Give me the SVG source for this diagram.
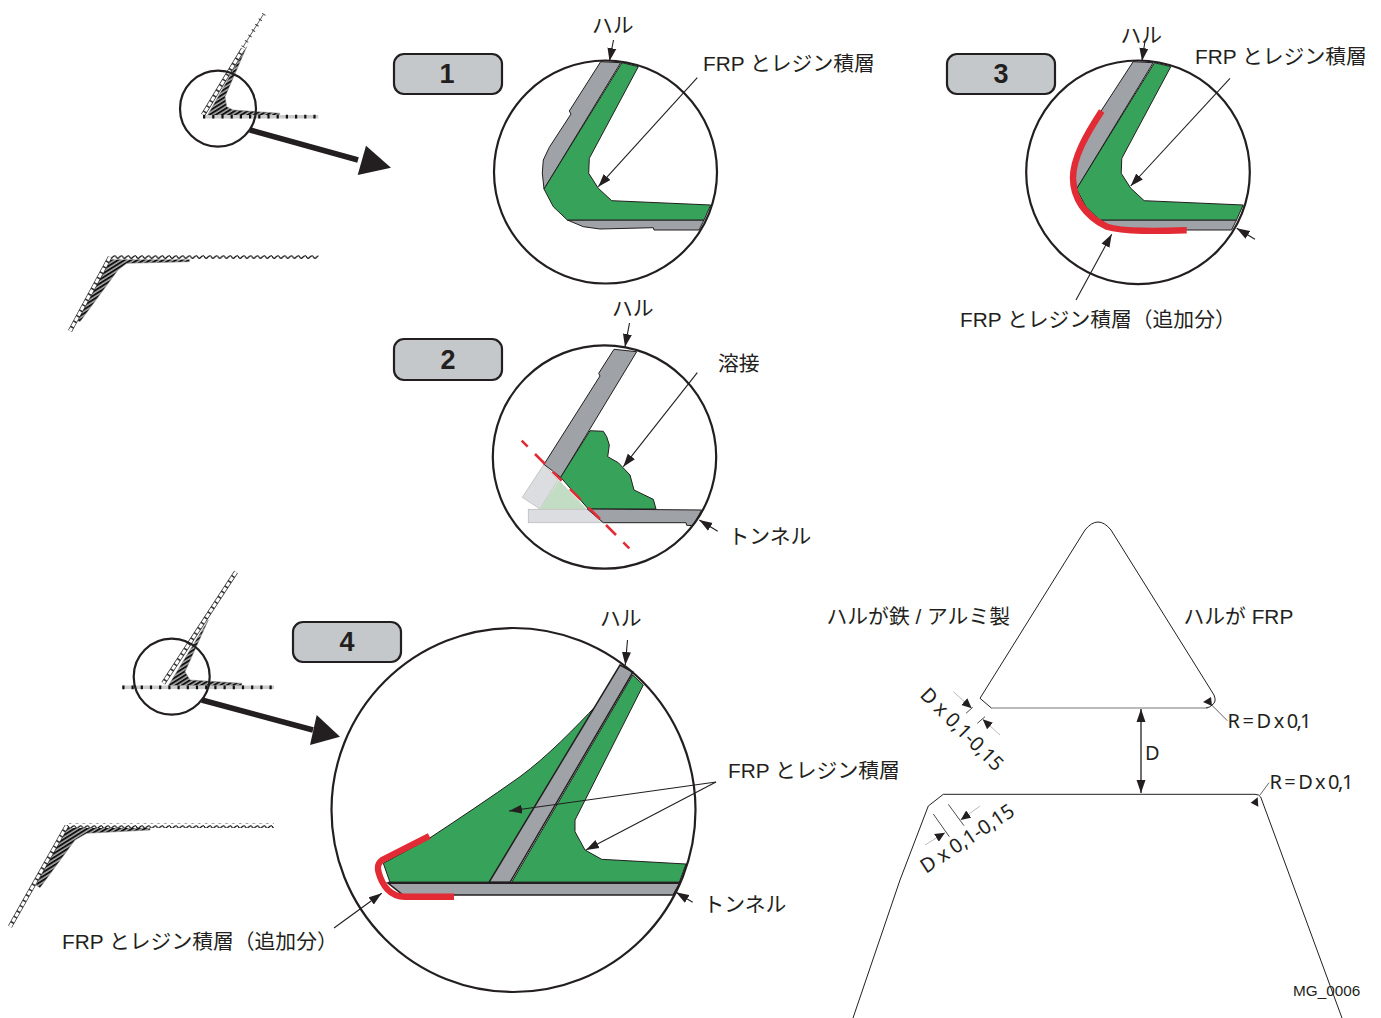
<svg xmlns="http://www.w3.org/2000/svg" width="1381" height="1018" viewBox="0 0 1381 1018">
<style>
text{font-family:"Liberation Sans","Noto Sans CJK JP",sans-serif;fill:#231f20}
.lb{font-size:20.8px}
.dim{font-family:"Noto Sans","Noto Sans CJK JP",sans-serif;font-size:20px}
.num{font-size:27px;font-weight:bold;text-anchor:middle}
.badge{fill:#c5c8ca;stroke:#231f20;stroke-width:2.2}
.ring{fill:none;stroke:#231f20;stroke-width:2.2}
.gr{fill:#37a35a;stroke:#231f20;stroke-width:1}
.gy{fill:#9fa2a6;stroke:#231f20;stroke-width:1}
.red{fill:none;stroke:#e32b35;stroke-width:6.4}
.ar{fill:none;stroke:#231f20;stroke-width:1.1;marker-end:url(#h)}
.tick{stroke:#231f20;stroke-width:.8;fill:none}
.gl{stroke:#aaa;stroke-width:.8;fill:none;marker-end:url(#h2)}
.big{stroke:#231f20;stroke-width:5.6;fill:none}
.hb{stroke:#333;stroke-width:4.4;fill:none}
.hw{stroke:#fff;stroke-width:3;fill:none;stroke-dasharray:4.6 1.6}
.ht{stroke:#333;stroke-width:.8;fill:none}
.htd{stroke:#333;stroke-width:4;fill:none;stroke-dasharray:.9 5.5}
.hs{stroke:#ccc;stroke-width:3.6;fill:none}
.hx{stroke:#111;stroke-width:3.8;fill:none;stroke-dasharray:2.2 7}
.hatch{fill:url(#hatch);stroke:#777;stroke-width:.5}
.thin{fill:none;stroke:#231f20;stroke-width:1}
</style>
<defs>
<marker id="h" markerUnits="userSpaceOnUse" markerWidth="14" markerHeight="10" refX="13" refY="5" orient="auto-start-reverse"><path d="M0 .5L13 5L0 9.5z" fill="#231f20"/></marker>
<marker id="h2" markerUnits="userSpaceOnUse" markerWidth="11" markerHeight="10" refX="10" refY="5" orient="auto"><path d="M0 .5L10 5L0 9.5z" fill="#231f20"/></marker>
<pattern id="hatch" width="3.4" height="3.4" patternUnits="userSpaceOnUse" patternTransform="rotate(-32)"><rect width="3.4" height="3.4" fill="#aaa"/><rect width="3.4" height="1.9" fill="#111"/></pattern>
<pattern id="wave" width="6.8" height="5" patternUnits="userSpaceOnUse"><rect width="6.8" height="5" fill="#fff"/><path d="M0 1Q1.7 4.6 3.4 2.5T6.8 1" fill="none" stroke="#111" stroke-width="1.2"/></pattern>
</defs>

<g id="thumb-top">
<path class="hatch" d="M246.7 46.700L225 96.700L226.700 106.700L233 110L280 113.300L278 116.700L206.700 116.700z"/>
<path class="ht" d="M263 15L243 47"/><path class="htd" d="M264 14L243 47"/>
<path class="hb" d="M243 49L203 115"/><path class="hw" d="M243 49L203 115"/>
<path class="hs" d="M203 116.700H318.300"/><path class="hx" d="M203 116.700H318.300"/>
<circle class="ring" cx="218" cy="108.700" r="38"/>
<path class="big" d="M250 130L358 160"/><path d="M366 145.700L391 167.700L357.700 175z" fill="#231f20"/>
</g>
<g id="thumb-top-lower">
<path class="hatch" d="M110 258L190 258L189.300 261.700L126.700 263.300L118 270L80 321.700L76.700 320z"/>
<rect x="110" y="254.500" width="208.500" height="5" fill="url(#wave)"/>
<path class="hb" d="M110 257L70 331"/><path class="hw" d="M110 257L70 331"/>
</g>

<g id="panel-1">
<rect class="badge" x="394" y="54" width="108" height="40" rx="10"/><text class="num" x="447" y="83">1</text>
<path class="gy" d="M600.700 61.700L620.700 62.700L544 189L542.300 173L543.300 160L549.300 147.300L571 114L569.300 111z"/>
<path class="gy" d="M567.300 220H704L699 230H654L653.300 227.700L600 229L583.300 226.700z"/>
<path class="gr" d="M622 62.700L638.300 66.700L589.300 158.300L588.700 173.300L598.300 188.300L611.700 200.700L710.700 205L704 220H567.300L553.300 206.700L544 189z"/>
<circle class="ring" cx="605.500" cy="172" r="111.500"/>
<text class="lb" x="592" y="33">ハル</text>
<text class="lb" x="703" y="71">FRP とレジン積層</text>
<path class="ar" d="M613.500 40L609.500 61"/>
<path class="ar" d="M697.300 77.700L598.300 186.700"/>
</g>

<g id="panel-2">
<rect class="badge" x="394" y="339" width="108" height="41" rx="10"/><text class="num" x="448" y="369">2</text>
<path d="M544 464.300L558 480L540 509L522.300 497.300z" fill="#dcdde0" stroke="#bbb" stroke-width=".8"/>
<path d="M559 480L540 509H586.700z" fill="#c3dcc4"/>
<rect x="528.300" y="509.300" width="75" height="13.400" fill="#dcdde0" stroke="#bbb" stroke-width=".8"/>
<path class="gy" d="M614 349.300L636.700 351.700L560.700 477.300L544 464.300L600 376L598.700 373.300z"/>
<path class="gr" d="M590 430.700L603.300 431.300L606.700 436.700L609.300 445L607.700 456.700L618.300 462.700L630 475L634 490L653.300 499.300L656 509H588.300L560.700 477.300z"/>
<path class="gy" d="M587.300 509L701.700 510L693 525.700L686.700 525.300L686 522.700H603.300z"/>
<path class="red" style="stroke-width:2.6" d="M521.700 440.700L527.700 446.700M535 454L545 464M552.700 471.700L561.700 480.700M570 489L580.700 499.700M588.300 507.300L600 519M606 525L616 535M623.300 542.300L629.300 548.300"/>
<circle class="ring" cx="604.500" cy="457" r="111.700"/>
<text class="lb" x="612" y="316">ハル</text>
<text class="lb" x="718" y="370.500">溶接</text>
<text class="lb" x="728.500" y="544">トンネル</text>
<path class="ar" d="M629.500 323L625 347"/>
<path class="ar" d="M697.300 372.700L623.300 466.700"/>
<path class="ar" d="M717.700 531.300L699.300 520"/>
</g>

<g id="panel-3">
<rect class="badge" x="947" y="54" width="108" height="40" rx="10"/><text class="num" x="1001" y="83">3</text>
<path class="gy" d="M1133.200 61.700L1153.200 62.700L1076.500 189L1074 170L1080 145L1103 108z"/>
<path class="gy" d="M1099.800 220H1236.500L1231.500 230H1130L1110 226z"/>
<path class="gr" d="M1154.500 62.700L1170.800 66.700L1121.800 158.300L1121.200 173.300L1130.800 188.300L1144.200 200.700L1243.200 205L1236.500 220H1099.800L1085.800 206.700L1076.500 189z"/>
<circle class="ring" cx="1138" cy="172.300" r="111.800"/>
<path class="red" d="M1101.700 111C1086 135 1073 158 1073 178C1073 198 1085 216 1106.700 226.700C1124 232 1160 231 1186.700 230.300"/>
<text class="lb" x="1120.500" y="43">ハル</text>
<text class="lb" x="1195" y="64">FRP とレジン積層</text>
<text class="lb" x="960" y="327">FRP とレジン積層（追加分）</text>
<path class="ar" d="M1145 41L1142 61"/>
<path class="ar" d="M1230 78.300L1130.700 186"/>
<path class="ar" d="M1255 239.300L1236.700 228.300"/>
<path class="ar" d="M1076 300L1111.700 234.300"/>
</g>

<g id="thumb-bottom">
<path class="hatch" d="M208.300 620L185 671.700L190 680L241.700 683.300V685.700H168.300z"/>
<path class="hb" d="M236 572L163.300 683.300"/><path class="hw" d="M236 572L163.300 683.300"/>
<path class="hs" d="M122.300 687.300H274"/><path class="hx" d="M122.300 687.300H274"/>
<circle class="ring" cx="171.700" cy="676.700" r="38"/>
<path class="big" d="M201.700 700L313 730"/><path d="M316.700 715L340 736.700L310 745z" fill="#231f20"/>
</g>
<g id="thumb-bottom-lower">
<path class="hatch" d="M66.700 826L150 826.700V830L86.700 833.300L75 840L40 887.700L36 885z"/>
<rect x="66.700" y="823.500" width="207.300" height="4.500" fill="url(#wave)"/>
<path class="hb" d="M66.700 826L10 926.700"/><path class="hw" d="M66.700 826L10 926.700"/>
</g>

<g id="panel-4">
<rect class="badge" x="293" y="622" width="108" height="40" rx="10"/><text class="num" x="347" y="651">4</text>
<path class="gr" d="M597 704.700C575 728 548 756 520 776.700C490 798 460 818 429.300 838.300L383.300 863.300L390 882.300H490L600 705z"/>
<path class="gr" d="M632.700 675L643.300 685L576.700 816.700L575 820V831.700L585 850L601.700 859.300L686 864L679.300 882.300H511.700z"/>
<path class="gy" d="M620 665L633 672L510 882.300H489z" style="stroke-width:1.500"/>
<path class="gy" d="M388 883H680L673.300 895H403z" style="stroke-width:1.600"/>
<path class="ring" d="M388 882.800H680"/>
<circle class="ring" cx="513.500" cy="810" r="182"/>
<path class="red" d="M429.300 836L384 859C378 862 377 866 378.500 872C382 885 390 896.700 405 896.700H454"/>
<text class="lb" x="600" y="626">ハル</text>
<text class="lb" x="728" y="778">FRP とレジン積層</text>
<text class="lb" x="703.500" y="912">トンネル</text>
<text class="lb" x="62" y="949">FRP とレジン積層（追加分）</text>
<path class="ar" d="M627.500 640L625.300 665"/>
<path class="ar" d="M716 782L509 811"/>
<path class="ar" d="M716 782L586 850"/>
<path class="ar" d="M692.700 902.300L676 892.300"/>
<path class="ar" d="M334 928L381.700 893.300"/>
</g>

<g id="triangle-upper">
<path class="thin" d="M991.700 708.300L980 698.300L1085 530Q1098 514 1111 530L1214 695Q1217 702 1212 705Q1210 707.700 1206 707.700"/>
<path d="M991.700 708H1208" fill="none" stroke="#777" stroke-width="1.200"/>
<path class="thin" d="M1227.300 720.700L1211.700 705" style="stroke-width:.7"/>
<path d="M1203 702L1211 697L1212 706z" fill="#231f20"/>
<text class="lb" x="826.500" y="624">ハルが鉄 / アルミ製</text>
<text class="lb" x="1183.500" y="624">ハルが FRP</text>
<text class="dim" x="1227.500" y="727.500" textLength="84" style="word-spacing:1px">R = D x 0,1</text>
<path class="gl" d="M953.300 691.700L971.700 708.300"/><path class="tick" d="M966 713.300L972.700 707.300"/>
<path class="gl" d="M1000 735L982.700 719.300"/><path class="tick" d="M977.300 723.300L985 716.700"/>
<text class="dim" transform="translate(919 696) rotate(45)" textLength="108">D x 0,1-0,15</text>
</g>
<g id="triangle-lower">
<path class="thin" d="M853 1018L900 880L928.300 806L943.300 794.300H1255Q1259.500 794.500 1260.700 797L1342 1018"/>
<path class="thin" d="M1269 782.700L1260 795" style="stroke-width:.7"/>
<path d="M1250.700 802.700L1257.700 797.300L1258.300 806.700z" fill="#231f20"/>
<text class="dim" x="1269.500" y="788.500" textLength="84">R = D x 0,1</text>
<path class="tick" d="M933.300 814L949.300 836.700M948.300 804.300L964 825.700"/>
<path class="gl" d="M925 845L945 832.700"/><path class="gl" d="M980 806L960.700 820"/>
<text class="dim" transform="translate(926 874) rotate(-33.500)" textLength="108">D x 0,1-0,15</text>
</g>
<g id="connectors">
<path d="M1141 709V793" fill="none" stroke="#231f20" stroke-width="1.300" marker-start="url(#h)" marker-end="url(#h)"/>
</g>
<text class="dim" x="1145" y="759.500">D</text>
<text x="1293" y="996" style="font-size:15.300px">MG_0006</text>
</svg>
